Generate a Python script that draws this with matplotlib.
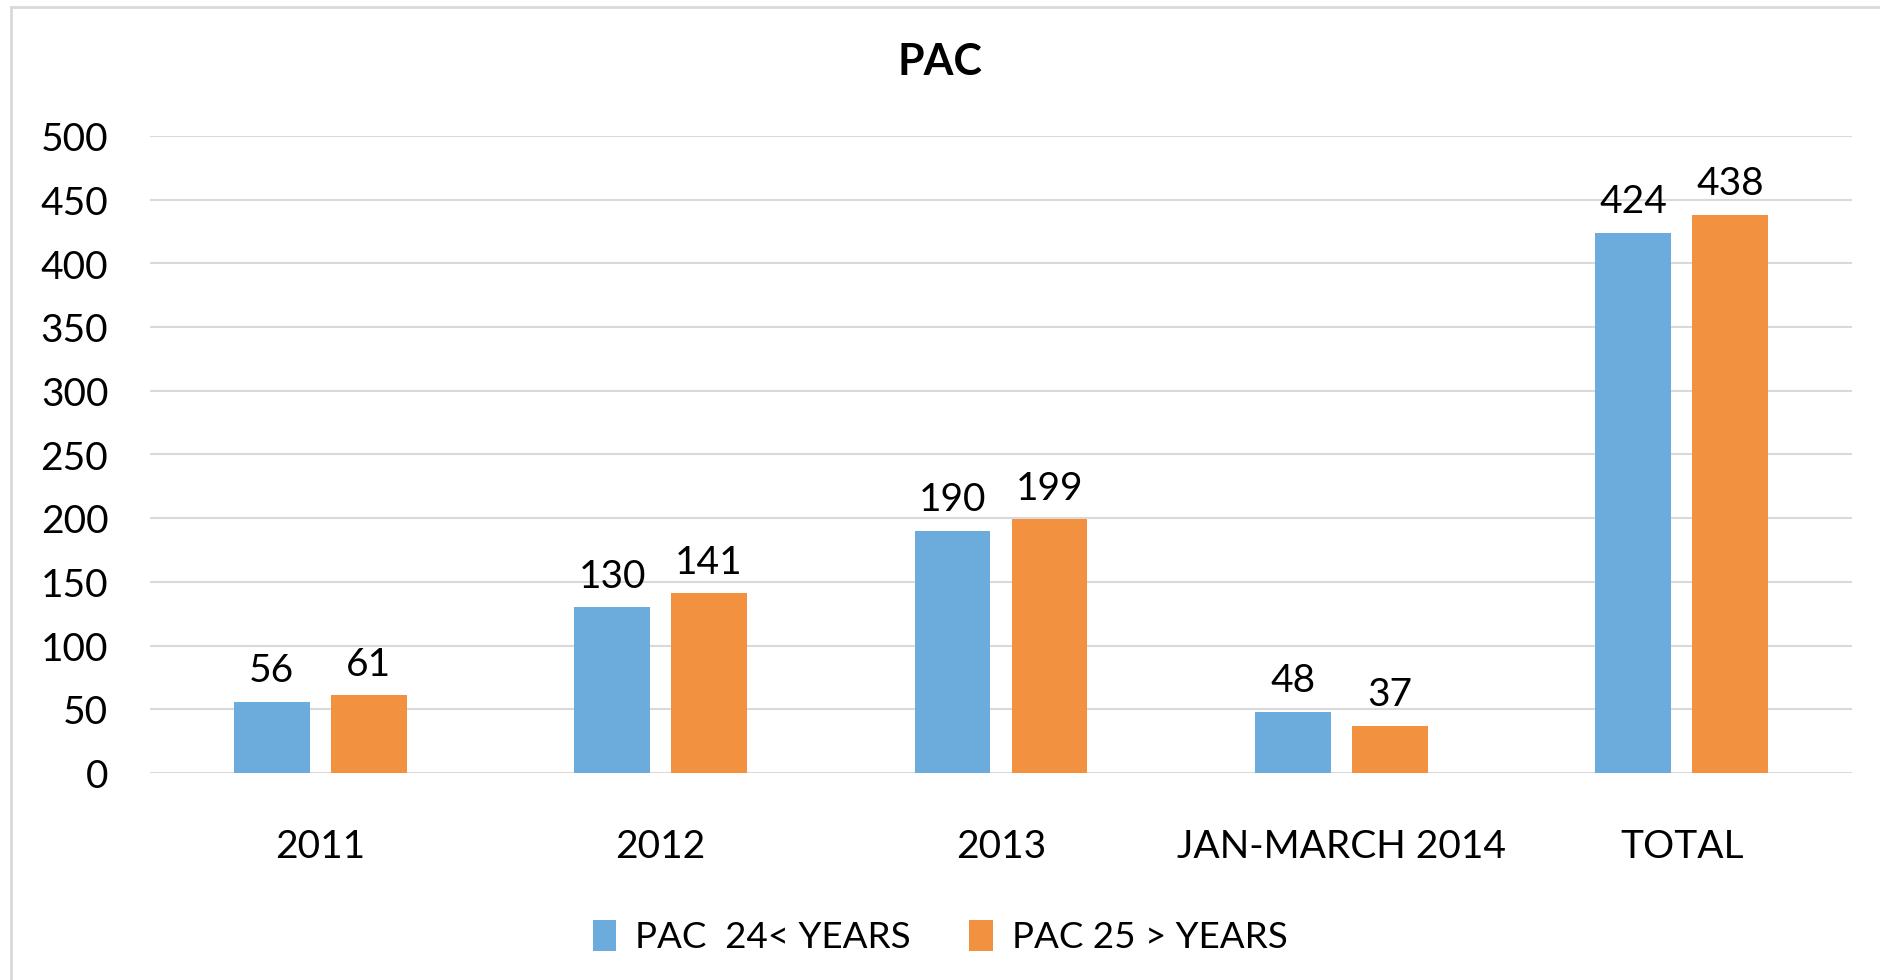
import matplotlib
matplotlib.use("Agg")
import matplotlib.pyplot as plt
import numpy as np
from matplotlib.lines import Line2D

categories = ["2011", "2012", "2013", "JAN-MARCH 2014", "TOTAL"]
series_names = ["PAC  24< YEARS", "PAC 25 > YEARS"]
pac_24 = [56, 130, 190, 48, 424]
pac_25 = [61, 141, 199, 37, 438]
yticks = [0, 50, 100, 150, 200, 250, 300, 350, 400, 450, 500]
title = "PAC"

blue = "#6CACDD"
orange = "#F29241"
grid_c = "#D9D9D9"

plt.rcParams["font.family"] = ["Lato", "DejaVu Sans"]

W, H = 1880, 980
fig = plt.figure(figsize=(W / 100, H / 100), dpi=100)
fig.patch.set_facecolor("white")

# outer frame (top and left edges visible)
fig.add_artist(Line2D([11 / W, 1], [1 - 7 / H, 1 - 7 / H], color=grid_c, lw=2, transform=fig.transFigure))
fig.add_artist(Line2D([11 / W, 11 / W], [0, 1 - 7 / H], color=grid_c, lw=2, transform=fig.transFigure))

ax = fig.add_axes([150 / W, 1 - 773 / H, 1702 / W, 637 / H])
x = np.arange(len(categories))
bw = 0.223
off = 0.1425
b1 = ax.bar(x - off, pac_24, bw, color=blue, label=series_names[0], zorder=3)
b2 = ax.bar(x + off, pac_25, bw, color=orange, label=series_names[1], zorder=3)

for bars, vals in ((b1, pac_24), (b2, pac_25)):
    for r, v in zip(bars, vals):
        ax.annotate(str(v), (r.get_x() + r.get_width() / 2, v), xytext=(0, 9),
                    textcoords="offset points", ha="center", va="bottom",
                    fontsize=28, color="black")

ax.set_xlim(-0.5, len(categories) - 0.5)
ax.set_ylim(0, 500)
ax.set_yticks(yticks)
ax.set_xticks(x)
ax.set_xticklabels(categories)
ax.tick_params(axis="y", length=0, pad=30, labelsize=28)
for lbl in ax.get_yticklabels():
    lbl.set_va("top")
    lbl.set_y(0)
ax.tick_params(axis="x", length=0, pad=40, labelsize=28)
ax.grid(axis="y", color=grid_c, lw=1.5, zorder=0)
for s in ax.spines.values():
    s.set_visible(False)
ax.set_axisbelow(True)

# nudge y tick labels slightly downward like the reference
import matplotlib.transforms as mtransforms
shift = mtransforms.ScaledTranslation(0, -3 / 72, fig.dpi_scale_trans)
for lbl in ax.get_yticklabels():
    lbl.set_va("center")
    lbl.set_transform(lbl.get_transform() + shift)

fig.text(0.5, 1 - 62 / H, title, ha="center", va="center", fontsize=31, fontweight="bold")

fig.legend(handles=[b1, b2], labels=series_names, loc="center", bbox_to_anchor=(0.5, 1 - 937 / H),
           ncol=2, frameon=False, fontsize=26.5, handlelength=0.65, handleheight=0.95,
           handletextpad=0.5, columnspacing=1.6)

fig.savefig("out.png", dpi=100, facecolor="white")
